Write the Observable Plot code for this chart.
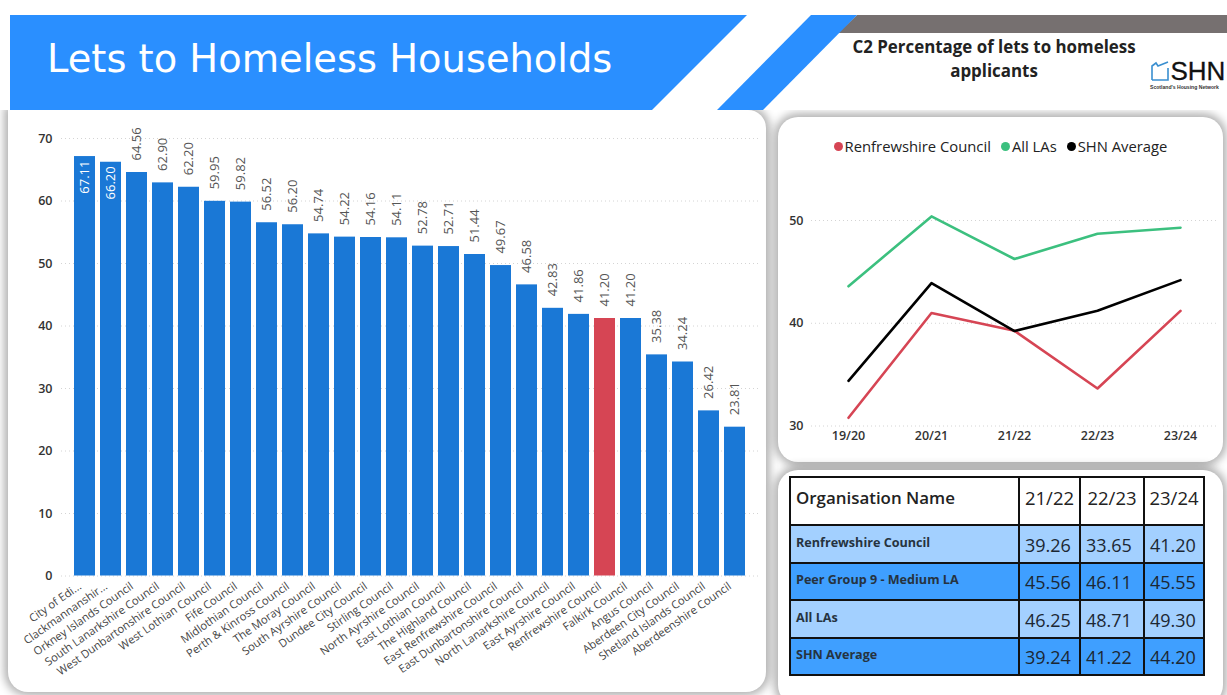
<!DOCTYPE html>
<html lang="en">
<head>
<meta charset="utf-8">
<title>Lets to Homeless Households</title>
<script src="https://cdn.jsdelivr.net/npm/d3@7"></script>
<script src="https://cdn.jsdelivr.net/npm/@observablehq/plot@0.6"></script>
<style>
  html, body { margin: 0; padding: 0; background: #fff; }
  body { position: relative; width: 1227px; height: 695px; overflow: hidden; font-family: "Open Sans", sans-serif; color: #222; }
  .abs { position: absolute; }
  .band { position: absolute; left: 0; top: 0; width: 1227px; height: 695px; }
  .panel { position: absolute; background: #fff; border-radius: 20px; box-shadow: 0 0 8px 4px rgba(0,0,0,.3); }
  #title { left: 47px; top: 36px; font: 38.4px "DejaVu Sans", sans-serif; color: #fff; white-space: nowrap; }
  #subtitle { left: 830px; top: 35px; width: 328px; text-align: center; font-weight: 700; font-size: 16.9px; line-height: 24px; color: #222; }
  #legend { left: 778px; top: 136px; width: 445px; display: flex; justify-content: center; font-size: 14.8px; font-weight: 500; line-height: 20px; white-space: nowrap; color: #222; box-sizing: border-box; }
  #legend span.item { display: flex; align-items: center; margin: 0 5px; }
  #legend i { width: 9px; height: 9px; border-radius: 50%; display: inline-block; margin-right: 2px; }
  table { position: absolute; left: 789px; top: 476px; width: 414px; height: 199px; border-collapse: collapse; table-layout: fixed; }
  td, th { border: 2px solid #111; padding: 0; }
  th { background: #fff; font-weight: 500; font-size: 18.5px; color: #222; text-align: center; padding-bottom: 8px; box-sizing: border-box; }
  th:first-child { text-align: left; padding-left: 5px; font-size: 16.9px; font-weight: 600; }
  td { font-size: 18px; font-weight: 500; color: #1c2733; padding-left: 5px; padding-top: 2px; box-sizing: border-box; }
  td:first-child { font-size: 12.6px; font-weight: 700; color: #263340; padding-left: 5px; padding-top: 0; padding-bottom: 3px; }
  tr.light td { background: #a3d0ff; }
  tr.dark td { background: #3f9fff; }
  #logoWord { left: 1170.5px; top: 60px; font: 26px/22px "Liberation Sans", sans-serif; color: #111; -webkit-text-stroke: .3px #111; white-space: nowrap; }
  #logoTag { left: 1150px; top: 85px; font: 700 5.1px/1 "Liberation Sans", sans-serif; color: #333; white-space: nowrap; }
</style>
</head>
<body>
<div class="panel" style="left:8px;top:110px;width:758px;height:582px;border-top-left-radius:0;border-top-right-radius:18px"></div>
<div class="panel" style="left:778px;top:117px;width:445px;height:345px"></div>
<div class="panel" style="left:778px;top:470px;width:445px;height:235px"></div>

<svg class="band" viewBox="0 0 1227 695">
  <rect x="0" y="0" width="1227" height="110" fill="#fff"/>
  <polygon points="838,33 857,15 1227,15 1227,33" fill="#767070"/>
  <polygon points="10,15 747,15 652,110 10,110" fill="#2a8fff"/>
  <polygon points="811,15 857,15 763,110 717,110" fill="#2a8fff"/>
  <path d="M1152 80 V66 L1156 63 L1158 66 L1163 64 L1168 62 M1152 80 H1168 V68" fill="none" stroke="#3a8fd0" stroke-width="1.6"/>
</svg>
<div id="title" class="abs">Lets to Homeless Households</div>
<div id="subtitle" class="abs">C2 Percentage of lets to homeless<br>applicants</div>
<div id="logoWord" class="abs">SHN</div>
<div id="logoTag" class="abs">Scotland's Housing Network</div>

<div id="barChart" class="abs" style="left:0;top:110px"></div>
<div id="lineChart" class="abs" style="left:778px;top:117px"></div>
<div id="legend" class="abs"></div>
<table id="summary"></table>

<script>
// Councils ranked by share of lets to homeless households (latest year)
const councils = ["City of Edi...", "Clackmannanshir...", "Orkney Islands Council", "South Lanarkshire Council", "West Dunbartonshire Council", "West Lothian Council", "Fife Council", "Midlothian Council", "Perth & Kinross Council", "The Moray Council", "South Ayrshire Council", "Dundee City Council", "Stirling Council", "North Ayrshire Council", "East Lothian Council", "The Highland Council", "East Renfrewshire Council", "East Dunbartonshire Council", "North Lanarkshire Council", "East Ayrshire Council", "Renfrewshire Council", "Falkirk Council", "Angus Council", "Aberdeen City Council", "Shetland Islands Council", "Aberdeenshire Council"];
const shares = [67.11, 66.20, 64.56, 62.90, 62.20, 59.95, 59.82, 56.52, 56.20, 54.74, 54.22, 54.16, 54.11, 52.78, 52.71, 51.44, 49.67, 46.58, 42.83, 41.86, 41.20, 41.20, 35.38, 34.24, 26.42, 23.81];
const highlighted = "Renfrewshire Council";
const insideLabelCount = 2;
const barTicks = [0, 10, 20, 30, 40, 50, 60, 70];

// Trend lines
const years = ["19/20", "20/21", "21/22", "22/23", "23/24"];
const renfrewshire = [30.8, 41.0, 39.26, 33.65, 41.20];
const allLAs = [43.6, 50.4, 46.25, 48.71, 49.30];
const shnAverage = [34.4, 43.9, 39.24, 41.22, 44.20];
const lineTicks = [30, 40, 50];
const lineNames = ["Renfrewshire Council", "All LAs", "SHN Average"];
const lineColors = ["#d64554", "#3cc07f", "#000000"];

// Summary table
const tableYears = ["21/22", "22/23", "23/24"];
const tableNames = ["Renfrewshire Council", "Peer Group 9 - Medium LA", "All LAs", "SHN Average"];
const tableValues = [
  ["39.26", "33.65", "41.20"],
  ["45.56", "46.11", "45.55"],
  ["46.25", "48.71", "49.30"],
  ["39.24", "41.22", "44.20"]
];

const barRows = councils.map((name, i) => ({name, share: shares[i], rank: i}));
const fmt = d3.format(".2f");
const dots = {stroke: "#d4d4d4", strokeOpacity: 1, strokeDasharray: "1,3"};

document.getElementById("barChart").append(Plot.plot({
  width: 770,
  height: 585,
  marginTop: 28,
  marginBottom: 119.5,
  marginLeft: 61,
  marginRight: 11,
  style: {background: "transparent", fontFamily: "'Open Sans', sans-serif", fontSize: "12px", overflow: "visible"},
  x: {domain: councils, type: "band", paddingInner: 0.19, paddingOuter: 0.5, label: null},
  y: {domain: [0, 70], label: null},
  marks: [
    Plot.gridY(barTicks, dots),
    Plot.barY(barRows.filter(d => d.name !== highlighted), {x: "name", y: "share", fill: "#1a78d6"}),
    Plot.barY(barRows.filter(d => d.name === highlighted), {x: "name", y: "share", fill: "#d64554"}),
    Plot.text(barRows.filter(d => d.rank >= insideLabelCount), {
      x: "name", y: "share", text: d => fmt(d.share), rotate: -90, textAnchor: "start",
      dy: -12, fill: "#555", fontSize: 13
    }),
    Plot.text(barRows.filter(d => d.rank < insideLabelCount), {
      x: "name", y: "share", text: d => fmt(d.share), rotate: -90, textAnchor: "end",
      dy: 4, fill: "#fff", fontSize: 13, fontWeight: 500
    }),
    Plot.axisY({ticks: barTicks, tickSize: 0, tickPadding: 9, label: null, fontSize: 12.5, fontWeight: 600, fill: "#333"}),
    Plot.axisX({tickSize: 0, tickPadding: 9, dx: -5, tickRotate: -35, label: null, fontSize: 11.2, fill: "#444", lineWidth: Infinity, textOverflow: null})
  ]
}));

const lineRows = lineNames.flatMap((series, s) =>
  [renfrewshire, allLAs, shnAverage][s].map((value, i) => ({series, year: years[i], value, color: lineColors[s]}))
);

document.getElementById("lineChart").append(Plot.plot({
  width: 445,
  height: 345,
  marginTop: 103,
  marginBottom: 36.5,
  marginLeft: 33,
  marginRight: 7,
  style: {background: "transparent", fontFamily: "'Open Sans', sans-serif", fontSize: "12px", overflow: "visible"},
  x: {domain: years, type: "point", padding: 0.434, label: null},
  y: {domain: [30, 50], label: null},
  marks: [
    Plot.gridY(lineTicks, dots),
    ...lineNames.map((series, s) =>
      Plot.line(lineRows.filter(d => d.series === series), {x: "year", y: "value", stroke: lineColors[s], strokeWidth: 2.6})
    ),
    Plot.axisY({ticks: lineTicks, tickSize: 0, tickPadding: 8, label: null, fontSize: 12.5, fontWeight: 600, fill: "#333"}),
    Plot.axisX({tickSize: 0, tickPadding: 5, label: null, fontSize: 12.5, fontWeight: 600, fill: "#333"})
  ]
}));

const legend = document.getElementById("legend");
lineNames.forEach((name, s) => {
  const item = document.createElement("span");
  item.className = "item";
  const dot = document.createElement("i");
  dot.style.background = lineColors[s];
  item.append(dot, name);
  legend.append(item);
});

const table = document.getElementById("summary");
const colgroup = document.createElement("colgroup");
["229px", "61px", "64px", "60px"].forEach(w => {
  const col = document.createElement("col");
  col.style.width = w;
  colgroup.append(col);
});
table.append(colgroup);
const head = table.insertRow();
["Organisation Name", ...tableYears].forEach(t => {
  const th = document.createElement("th");
  th.textContent = t;
  head.append(th);
});
head.style.height = "48px";
tableNames.forEach((name, r) => {
  const row = table.insertRow();
  row.className = r % 2 ? "dark" : "light";
  row.style.height = "37.5px";
  [name, ...tableValues[r]].forEach(t => { row.insertCell().textContent = t; });
});
</script>
</body>
</html>
